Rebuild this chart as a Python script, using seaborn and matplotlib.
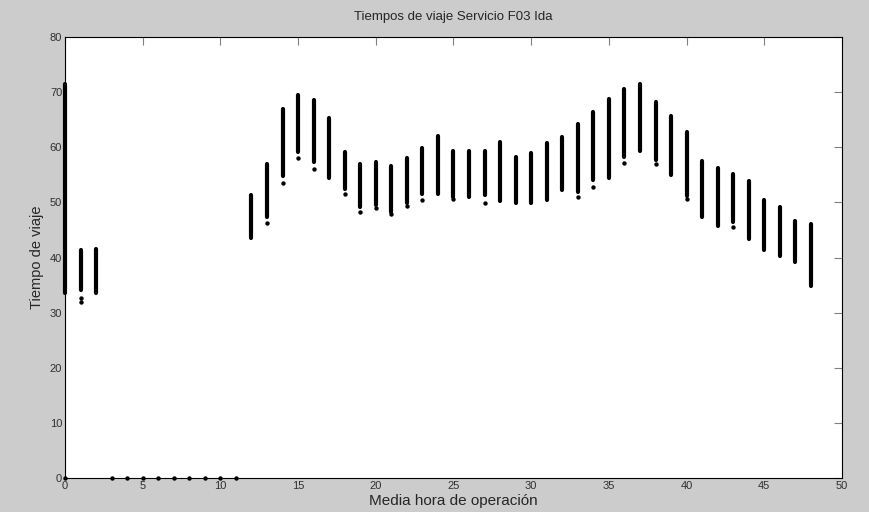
import numpy as np
import pandas as pd
import matplotlib
matplotlib.use("Agg")
import matplotlib.pyplot as plt
import seaborn as sns

# media hora de operacion con viajes (columnas con rango de tiempos)
half_hours = [0, 1, 2, 12, 13, 14, 15, 16, 17, 18, 19, 20, 21, 22, 23, 24,
              25, 26, 27, 28, 29, 30, 31, 32, 33, 34, 35, 36, 37, 38, 39, 40,
              41, 42, 43, 44, 45, 46, 47, 48]
time_min = [33.6, 34.1, 33.6, 43.5, 47.4, 54.7, 59.2, 57.4, 54.5, 52.5, 49.2,
            49.5, 48.3, 49.8, 51.6, 51.5, 51.0, 50.9, 51.3, 50.3, 49.8, 49.8,
            50.4, 52.2, 51.9, 54.1, 54.4, 58.2, 59.4, 57.7, 55.0, 51.2, 47.3,
            45.7, 46.5, 43.4, 41.4, 40.3, 39.2, 34.8]
time_max = [71.5, 41.3, 41.5, 51.3, 57.0, 67.0, 69.5, 68.5, 65.3, 59.1, 57.0,
            57.3, 56.6, 58.0, 59.8, 62.0, 59.4, 59.4, 59.4, 60.9, 58.3, 59.0,
            60.8, 61.8, 64.3, 66.4, 68.7, 70.5, 71.5, 68.2, 65.7, 62.7, 57.5,
            56.2, 55.2, 53.9, 50.4, 49.1, 46.7, 46.1]

# viajes sueltos (sin tiempo registrado y valores aislados)
zero_hours = [0, 3, 4, 5, 6, 7, 8, 9, 10, 11]
zero_times = [0, 0, 0, 0, 0, 0, 0, 0, 0, 0]
outlier_hours = [1, 1, 13, 14, 15, 16, 18, 19, 20, 21, 22, 23, 25, 27, 33,
                 34, 36, 38, 40, 43]
outlier_times = [32.6, 32.0, 46.3, 53.5, 58.0, 56.0, 51.5, 48.3, 48.9, 47.9,
                 49.3, 50.4, 50.6, 49.8, 50.9, 52.8, 57.1, 57.0, 50.6, 45.5]

spans = pd.DataFrame({
    "hora": half_hours * 2,
    "tiempo": time_min + time_max,
})
sueltos = pd.DataFrame({
    "hora": zero_hours + outlier_hours,
    "tiempo": zero_times + outlier_times,
})

sns.set_style("white")
plt.rcParams["font.family"] = ["Liberation Sans", "DejaVu Sans"]

fig = plt.figure(figsize=(8.7, 5.12), dpi=100, facecolor="#cccccc")
ax = fig.add_axes([0.0747, 0.0664, 0.8931, 0.8613])
ax.set_facecolor("white")

sns.lineplot(data=spans, x="hora", y="tiempo", units="hora", estimator=None,
             color="black", linewidth=3.0, solid_capstyle="round",
             clip_on=False, ax=ax)
sns.scatterplot(data=sueltos, x="hora", y="tiempo", color="black", s=10,
                linewidth=0, marker="o", clip_on=False, ax=ax, zorder=3)

ax.set_xlim(0, 50)
ax.set_ylim(0, 80)
ax.set_xticks(range(0, 51, 5))
ax.set_yticks(range(0, 81, 10))
ax.tick_params(direction="in", length=6, width=0.8, color="#808080",
               labelsize=8, labelcolor="#303030", top=True, right=True,
               pad=2)
for side in ax.spines.values():
    side.set_color("black")
    side.set_linewidth(0.8)

ax.set_title("Tiempos de viaje Servicio F03 Ida", fontsize=9.5, pad=12)
ax.set_xlabel("Media hora de operación", fontsize=11, labelpad=2)
ax.set_ylabel("Tiempo de viaje", fontsize=10.5, labelpad=4)

fig.savefig("out.png", dpi=100, facecolor=fig.get_facecolor())
